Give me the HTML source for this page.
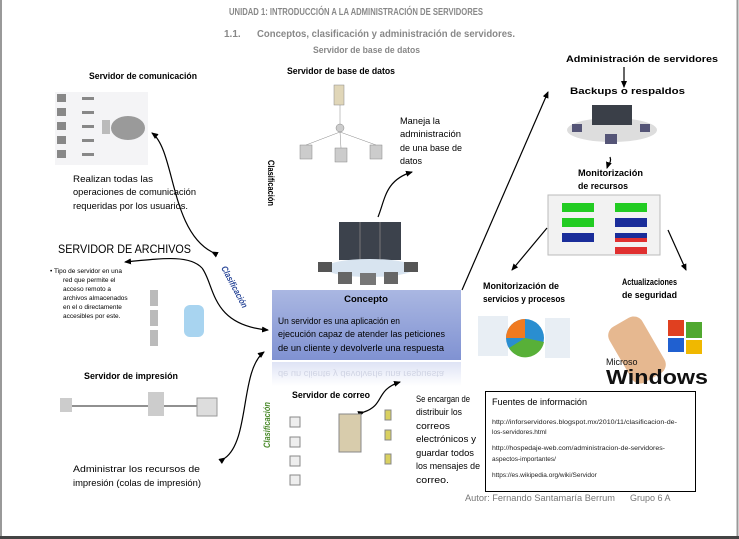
<!DOCTYPE html>
<html><head><meta charset="utf-8"><style>
html,body{margin:0;padding:0;background:#fff;}
svg{display:block;font-family:"Liberation Sans",sans-serif;}
</style></head><body>
<svg width="739" height="539" viewBox="0 0 739 539" xmlns="http://www.w3.org/2000/svg">
<defs>
<marker id="ah" markerWidth="8" markerHeight="8" refX="6" refY="3" orient="auto" markerUnits="userSpaceOnUse"><path d="M0,0 L7,3 L0,6 z" fill="#000"/></marker>
<linearGradient id="cg" x1="0" y1="0" x2="0" y2="1"><stop offset="0" stop-color="#aab7e2"/><stop offset="1" stop-color="#8092d2"/></linearGradient>
<linearGradient id="rg" x1="0" y1="0" x2="0" y2="1"><stop offset="0" stop-color="#c8d0ee"/><stop offset="1" stop-color="#fff"/></linearGradient>
</defs>
<rect width="739" height="539" fill="#fff"/>
<line x1="1" y1="0" x2="1" y2="536" stroke="#999" stroke-width="2"/>
<line x1="737.5" y1="0" x2="737.5" y2="536" stroke="#999" stroke-width="2"/>
<rect x="0" y="536" width="739" height="3" fill="#444"/>

<g font-weight="bold" fill="#888" font-size="10">
<text x="229" y="15" textLength="254" lengthAdjust="spacingAndGlyphs">UNIDAD 1: INTRODUCCIÓN A LA ADMINISTRACIÓN DE SERVIDORES</text>
<text x="224" y="37">1.1.</text>
<text x="257" y="37" textLength="258" lengthAdjust="spacingAndGlyphs">Conceptos, clasificación y administración de servidores.</text>
<text x="313" y="53" font-size="9" textLength="107" lengthAdjust="spacingAndGlyphs">Servidor de base de datos</text>
</g>

<g font-weight="bold" fill="#000" font-size="9.5">
<text x="89" y="79" textLength="108" lengthAdjust="spacingAndGlyphs">Servidor de comunicación</text>
<text x="287" y="74" textLength="108" lengthAdjust="spacingAndGlyphs">Servidor de base de datos</text>
<text x="566" y="62" textLength="152" lengthAdjust="spacingAndGlyphs">Administración de servidores</text>
<text x="570" y="94" textLength="115" lengthAdjust="spacingAndGlyphs">Backups o respaldos</text>
<text x="578" y="176" textLength="65" lengthAdjust="spacingAndGlyphs">Monitorización</text>
<text x="578" y="189" textLength="50" lengthAdjust="spacingAndGlyphs">de recursos</text>
<text x="483" y="289" textLength="76" lengthAdjust="spacingAndGlyphs">Monitorización de</text>
<text x="483" y="302" textLength="82" lengthAdjust="spacingAndGlyphs">servicios y procesos</text>
<text x="622" y="285" textLength="55" lengthAdjust="spacingAndGlyphs">Actualizaciones</text>
<text x="622" y="298" textLength="55" lengthAdjust="spacingAndGlyphs">de seguridad</text>
<text x="84" y="379" textLength="94" lengthAdjust="spacingAndGlyphs">Servidor de impresión</text>
<text x="292" y="398" textLength="78" lengthAdjust="spacingAndGlyphs">Servidor de correo</text>
</g>

<g fill="#000" font-size="9.5">
<text x="73" y="182" textLength="80" lengthAdjust="spacingAndGlyphs">Realizan todas las</text>
<text x="73" y="195" textLength="123" lengthAdjust="spacingAndGlyphs">operaciones de comunicación</text>
<text x="73" y="209" textLength="115" lengthAdjust="spacingAndGlyphs">requeridas por los usuarios.</text>
<text x="400" y="124" textLength="40" lengthAdjust="spacingAndGlyphs">Maneja la</text>
<text x="400" y="137" textLength="61" lengthAdjust="spacingAndGlyphs">administración</text>
<text x="400" y="151" textLength="62" lengthAdjust="spacingAndGlyphs">de una base de</text>
<text x="400" y="164" textLength="22" lengthAdjust="spacingAndGlyphs">datos</text>
<text x="58" y="253" font-size="11.5" textLength="133" lengthAdjust="spacingAndGlyphs">SERVIDOR DE ARCHIVOS</text>
<text x="73" y="472" textLength="127" lengthAdjust="spacingAndGlyphs">Administrar los recursos de</text>
<text x="73" y="486" textLength="128" lengthAdjust="spacingAndGlyphs">impresión (colas de impresión)</text>
<text x="416" y="402" textLength="54" lengthAdjust="spacingAndGlyphs">Se encargan de</text>
<text x="416" y="415" textLength="46" lengthAdjust="spacingAndGlyphs">distribuir los</text>
<text x="416" y="429" textLength="34" lengthAdjust="spacingAndGlyphs">correos</text>
<text x="416" y="442" textLength="60" lengthAdjust="spacingAndGlyphs">electrónicos y</text>
<text x="416" y="456" textLength="58" lengthAdjust="spacingAndGlyphs">guardar todos</text>
<text x="416" y="469" textLength="64" lengthAdjust="spacingAndGlyphs">los mensajes de</text>
<text x="416" y="483" textLength="33" lengthAdjust="spacingAndGlyphs">correo.</text>
</g>
<g fill="#000" font-size="6.5">
<text x="50" y="273">• Tipo de servidor en una</text>
<text x="63" y="282">red que permite el</text>
<text x="63" y="291">acceso remoto a</text>
<text x="63" y="300">archivos almacenados</text>
<text x="63" y="309">en el o directamente</text>
<text x="63" y="318">accesibles por este.</text>
</g>

<!-- concept box -->
<rect x="272" y="290" width="189" height="70" fill="url(#cg)"/>
<text x="366" y="302" text-anchor="middle" font-weight="bold" font-size="9.5">Concepto</text>
<g font-size="9.5">
<text x="278" y="324" textLength="122" lengthAdjust="spacingAndGlyphs">Un servidor es una aplicación  en</text>
<text x="278" y="337" textLength="167" lengthAdjust="spacingAndGlyphs">ejecución  capaz de atender las peticiones</text>
<text x="278" y="351" textLength="166" lengthAdjust="spacingAndGlyphs">de un cliente  y devolverle una respuesta</text>
</g>
<rect x="272" y="362" width="189" height="24" fill="url(#rg)" opacity="0.6"/>
<text x="278" transform="translate(0,722) scale(1,-1)" y="351" font-size="9.5" fill="#d0d4e4" textLength="166" lengthAdjust="spacingAndGlyphs">de un cliente  y devolverle una respuesta</text>

<!-- Fuentes -->
<rect x="485.5" y="391.5" width="210" height="100" fill="#fff" stroke="#000"/>
<text x="492" y="405" font-size="9.5" textLength="95" lengthAdjust="spacingAndGlyphs">Fuentes de información</text>
<g font-size="6.5" fill="#222">
<text x="492" y="424" textLength="185" lengthAdjust="spacingAndGlyphs">http://inforservidores.blogspot.mx/2010/11/clasificacion-de-</text>
<text x="492" y="434">los-servidores.html</text>
<text x="492" y="450" textLength="173" lengthAdjust="spacingAndGlyphs">http://hospedaje-web.com/administracion-de-servidores-</text>
<text x="492" y="461">aspectos-importantes/</text>
<text x="492" y="477">https://es.wikipedia.org/wiki/Servidor</text>
</g>
<text x="465" y="501" font-size="9" fill="#777" textLength="150" lengthAdjust="spacingAndGlyphs">Autor: Fernando Santamaría Berrum</text>
<text x="630" y="501" font-size="9" fill="#777">Grupo 6 A</text>

<!-- Clasificación labels -->
<text transform="translate(268,160) rotate(90)" font-size="9" font-weight="bold" textLength="46" lengthAdjust="spacingAndGlyphs">Clasificación</text>
<text transform="translate(221,268) rotate(62)" font-size="9" font-weight="bold" font-style="italic" fill="#2d4a9a" textLength="46" lengthAdjust="spacingAndGlyphs">Clasificación</text>
<text transform="translate(270,448) rotate(-90)" font-size="9" font-weight="bold" font-style="italic" fill="#4a8a2a" textLength="46" lengthAdjust="spacingAndGlyphs">Clasificación</text>

<!-- connectors -->
<g fill="none" stroke="#000" stroke-width="1.2">
<path d="M212,252 C170,230 175,150 152,133" marker-start="url(#ah)" marker-end="url(#ah)"/>
<path d="M378,217 C385,200 385,180 412,172" marker-end="url(#ah)"/>
<path d="M202,268 C190,255 165,258 125,262" marker-end="url(#ah)"/>
<path d="M202,268 C215,285 210,325 268,330" marker-end="url(#ah)"/>
<path d="M225,458 C250,440 240,370 264,352" marker-start="url(#ah)" marker-end="url(#ah)"/>
<path d="M364,412 C385,405 375,390 400,382" marker-start="url(#ah)" marker-end="url(#ah)"/>
<path d="M462,290 L548,92" marker-end="url(#ah)"/>
<path d="M624,67 L624,87" marker-end="url(#ah)"/>
<path d="M610,157 C612,162 608,165 607,168" marker-end="url(#ah)"/>
<path d="M547,228 L512,270" marker-end="url(#ah)"/>
<path d="M668,230 L686,270" marker-end="url(#ah)"/>
</g>

<!-- comm image -->
<g>
<rect x="55" y="92" width="93" height="73" fill="#f4f4f6"/>
<g fill="#888"><rect x="57" y="94" width="9" height="8"/><rect x="57" y="108" width="9" height="8"/><rect x="57" y="122" width="9" height="8"/><rect x="57" y="136" width="9" height="8"/><rect x="57" y="150" width="9" height="8"/>
<rect x="82" y="97" width="12" height="3"/><rect x="82" y="111" width="12" height="3"/><rect x="82" y="125" width="12" height="3"/><rect x="82" y="139" width="12" height="3"/><rect x="82" y="153" width="12" height="3"/></g>
<ellipse cx="128" cy="128" rx="17" ry="12" fill="#9a9a9a"/>
<rect x="102" y="120" width="8" height="14" fill="#bbb"/>
</g>
<!-- db image -->
<g fill="#ccc" stroke="#888" stroke-width="0.5">
<rect x="334" y="85" width="10" height="20" fill="#e0d6b8"/>
<circle cx="340" cy="128" r="4"/>
<rect x="300" y="145" width="12" height="14"/><rect x="335" y="148" width="12" height="14"/><rect x="370" y="145" width="12" height="14"/>
<line x1="340" y1="105" x2="340" y2="124"/><line x1="340" y1="132" x2="306" y2="145"/><line x1="340" y1="132" x2="341" y2="148"/><line x1="340" y1="132" x2="376" y2="145"/>
</g>
<!-- central server -->
<g>
<rect x="339" y="222" width="62" height="38" fill="#3c424c"/>
<line x1="360" y1="222" x2="360" y2="260" stroke="#777"/><line x1="380" y1="222" x2="380" y2="260" stroke="#777"/>
<ellipse cx="370" cy="268" rx="45" ry="9" fill="#d8e4f0"/>
<rect x="318" y="262" width="14" height="10" fill="#555"/><rect x="404" y="262" width="14" height="10" fill="#555"/>
<rect x="338" y="272" width="14" height="12" fill="#666"/><rect x="360" y="273" width="16" height="12" fill="#777"/><rect x="384" y="272" width="14" height="12" fill="#666"/>
</g>
<!-- archivo image -->
<g fill="#bbb"><rect x="150" y="290" width="8" height="16"/><rect x="150" y="310" width="8" height="16"/><rect x="150" y="330" width="8" height="16"/></g>
<rect x="184" y="305" width="20" height="32" rx="6" fill="#a8d4f0"/>
<!-- print image -->
<g>
<rect x="60" y="398" width="12" height="14" fill="#ccc"/>
<line x1="72" y1="406" x2="200" y2="406" stroke="#222"/>
<rect x="148" y="392" width="16" height="24" fill="#ccc"/>
<rect x="197" y="398" width="20" height="18" fill="#ddd" stroke="#999"/>
</g>
<!-- mail image -->
<g stroke="#888" fill="#eee">
<rect x="290" y="417" width="10" height="10"/><rect x="290" y="437" width="10" height="10"/><rect x="290" y="456" width="10" height="10"/><rect x="290" y="475" width="10" height="10"/>
<rect x="339" y="414" width="22" height="38" fill="#d8ccac"/>
<rect x="385" y="410" width="6" height="10" fill="#d9d060"/><rect x="385" y="430" width="6" height="10" fill="#d9d060"/><rect x="385" y="454" width="6" height="10" fill="#d9d060"/>
</g>
<!-- backups image -->
<g>
<ellipse cx="612" cy="130" rx="45" ry="12" fill="#ddd"/>
<rect x="592" y="105" width="40" height="20" fill="#3a3f48"/>
<rect x="572" y="124" width="10" height="8" fill="#557"/><rect x="640" y="124" width="10" height="8" fill="#557"/><rect x="605" y="134" width="12" height="10" fill="#557"/>
</g>
<!-- resources image -->
<g>
<rect x="548" y="195" width="112" height="60" fill="#f2f2f2" stroke="#bbb"/>
<rect x="562" y="203" width="32" height="9" fill="#22cc22"/><rect x="615" y="203" width="32" height="9" fill="#22cc22"/>
<rect x="562" y="218" width="32" height="9" fill="#22cc22"/><rect x="615" y="218" width="32" height="9" fill="#1a2d9a"/>
<rect x="562" y="233" width="32" height="9" fill="#1a2d9a"/><rect x="615" y="233" width="32" height="5" fill="#1a2d9a"/><rect x="615" y="238" width="32" height="4" fill="#e03030"/>
<rect x="615" y="247" width="32" height="7" fill="#e03030"/>
</g>
<!-- services image -->
<g>
<rect x="478" y="316" width="30" height="40" fill="#e8eef4"/>
<rect x="545" y="318" width="25" height="40" fill="#e8eef4"/>
<circle cx="525" cy="338" r="19" fill="#2a8ed0"/>
<path d="M525,338 L506,338 A19,19 0 0,1 525,319 z" fill="#f07a20"/>
<path d="M525,338 L544,342 A19,19 0 0,1 509,348 z" fill="#58b038"/>
</g>
<!-- windows image -->
<g>
<rect x="668" y="320" width="16" height="16" fill="#e04020"/><rect x="686" y="322" width="16" height="16" fill="#50a830"/>
<rect x="668" y="338" width="16" height="14" fill="#2060d0"/><rect x="686" y="340" width="16" height="14" fill="#f0b800"/>
<rect x="618" y="318" width="38" height="64" rx="10" fill="#e6b890" transform="rotate(-30 637 350)"/>
<text x="606" y="384" font-size="20" font-weight="bold" fill="#111" textLength="102" lengthAdjust="spacingAndGlyphs">Windows</text>
<text x="606" y="365" font-size="9" fill="#111">Microso</text>
</g>
</svg>
</body></html>
